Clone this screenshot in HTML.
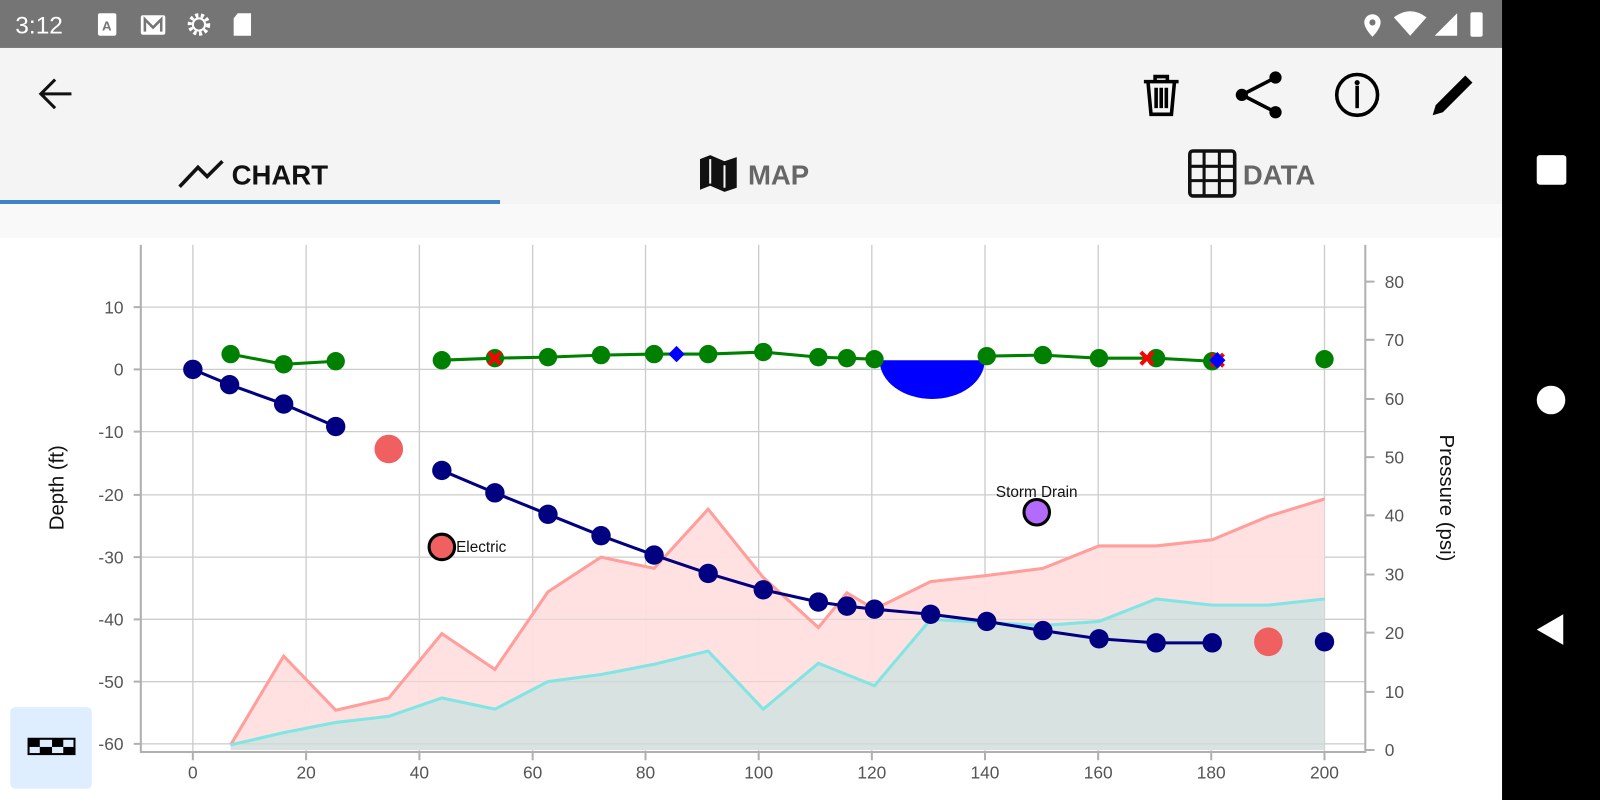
<!DOCTYPE html>
<html><head><meta charset="utf-8"><style>
html,body{margin:0;padding:0;background:#fff;overflow:hidden}
svg{display:block}
text{font-family:"Liberation Sans",sans-serif}
</style></head><body>
<svg width="1600" height="800" viewBox="0 0 1568 784" preserveAspectRatio="none" xmlns="http://www.w3.org/2000/svg">
<rect x="0" y="0" width="1568" height="784" fill="#fff"/>
<rect x="0" y="0" width="1568" height="47" fill="#757575"/>
<text x="15" y="33" font-size="24" fill="#fff">3:12</text>
<rect x="96" y="13" width="18" height="22" rx="2" fill="#fff"/><text x="100" y="30" font-size="13" font-weight="bold" fill="#757575">A</text>
<rect x="138" y="15" width="24" height="19" rx="2" fill="#fff"/><path d="M142 31 V19 L150 27 L158 19 V31" stroke="#757575" stroke-width="2.5" fill="none"/>
<circle cx="195" cy="24" r="9" fill="none" stroke="#fff" stroke-width="4" stroke-dasharray="3 2.5"/><circle cx="195" cy="24" r="6" fill="none" stroke="#fff" stroke-width="2"/>
<path d="M233 13 H246 V35 H229 V18 Z" fill="#fff"/>
<path d="M1345 14 a8 8 0 0 1 8 8 c0 6 -8 14 -8 14 c0 0 -8 -8 -8 -14 a8 8 0 0 1 8 -8z" fill="#fff"/><circle cx="1345" cy="22" r="3" fill="#757575"/>
<path d="M1366 17 Q1382 5 1398 17 L1382 35 Z" fill="#fff"/>
<path d="M1406 35 L1428 13 V35 Z" fill="#fff"/>
<rect x="1441" y="12" width="12" height="24" rx="2" fill="#fff"/>
<rect x="0" y="47" width="1472" height="153" fill="#f4f4f4"/>
<path d="M70 92 H40 M54 78 L40 92 L54 106" stroke="#111" stroke-width="3" fill="none"/>
<g fill="none" stroke="#000" stroke-width="3.5">
<path d="M1121 80 H1155 M1132 80 V75 H1144 V80 M1125 80 L1128 112 H1148 L1151 80 M1133 86 V106 M1138 86 V106 M1143 86 V106"/>
<path d="M1250 76 L1217 93 L1250 110"/>
<circle cx="1330" cy="93" r="20"/>
<path d="M1330 84 V106"/>
<path d="M1408 110 L1438 79"/>
</g>
<circle cx="1250" cy="76" r="6"/><circle cx="1217" cy="93" r="6"/><circle cx="1250" cy="110" r="6"/>
<circle cx="1330" cy="81" r="2.5"/>
<path d="M1404 113 L1407 103 L1436 74 L1443 81 L1414 110 Z" fill="#000"/>
<path d="M176 183 L194 164 L203 173 L218 158" stroke="#111" stroke-width="3.5" fill="none"/>
<text x="227" y="181" font-size="27" font-weight="bold" fill="#111">CHART</text>
<rect x="0" y="196" width="490" height="4" fill="#3d85c6"/>
<path d="M686 156 L696 152 L710 158 L722 154 V184 L710 188 L696 182 L686 186 Z" fill="#111"/><path d="M696 156 V180 M710 162 V184" stroke="#f4f4f4" stroke-width="2"/>
<text x="733" y="181" font-size="27" font-weight="bold" fill="#666">MAP</text>
<rect x="1166" y="148" width="44" height="44" rx="3" fill="none" stroke="#111" stroke-width="3.5"/>
<path d="M1180 148 V192 M1195 148 V192 M1166 163 H1210 M1166 177 H1210" stroke="#111" stroke-width="3"/>
<text x="1218" y="181" font-size="27" font-weight="bold" fill="#666">DATA</text>
<rect x="0" y="200" width="1472" height="33" fill="#f9f9f9"/>
<rect x="1472" y="0" width="96" height="784" fill="#000"/>
<rect x="1506" y="152" width="29" height="29" rx="3" fill="#fff"/>
<circle cx="1520" cy="392" r="14" fill="#fff"/>
<path d="M1532 602 V632 L1506 617 Z" fill="#fff"/>
<g stroke="#cccccc" stroke-width="1.3">
<path d="M189 240V737M300 240V737M411 240V737M522 240V737M632.6 240V737M743.5 240V737M854.4 240V737M965.3 240V737M1076.2 240V737M1187 240V737M1298 240V737"/>
<path d="M138 301H1338M138 362H1338M138 423H1338M138 485H1338M138 546H1338M138 607H1338M138 668H1338M138 729H1338"/>
</g>
<path d="M226 730 L278 643 L329 696 L381 684 L433 621 L485 656 L537 580 L589 546 L641 557 L694 499 L748 566 L802 615 L830 581 L857 597 L912 570 L967 564 L1022 557 L1077 535 L1133 535 L1188 529 L1243 506 L1298 489 L1298 735 L226 735 Z" fill="#ffdfdf" opacity="0.95"/>
<path d="M226 730 L278 718 L329 708 L381 702 L433 684 L485 695 L537 668 L589 661 L641 651 L694 638 L748 695 L802 650 L857 672 L912 607 L967 610 L1022 613 L1077 609 L1133 587 L1188 593 L1243 593 L1298 587 L1298 735 L226 735 Z" fill="#d8e2e1"/>
<g stroke="#cfcfcf" stroke-width="1.3" opacity="0.6"><path d="M138 668H1338M138 729H1338M138 607H1338"/></g>
<path d="M226 730 L278 643 L329 696 L381 684 L433 621 L485 656 L537 580 L589 546 L641 557 L694 499 L748 566 L802 615 L830 581 L857 597 L912 570 L967 564 L1022 557 L1077 535 L1133 535 L1188 529 L1243 506 L1298 489" fill="none" stroke="#ff9e9b" stroke-width="3"/>
<path d="M226 730 L278 718 L329 708 L381 702 L433 684 L485 695 L537 668 L589 661 L641 651 L694 638 L748 695 L802 650 L857 672 L912 607 L967 610 L1022 613 L1077 609 L1133 587 L1188 593 L1243 593 L1298 587" fill="none" stroke="#80e5e3" stroke-width="3"/>
<g stroke="#b0b0b0" stroke-width="2" fill="none">
<path d="M138 240 V737 H1338 V240"/>
<path d="M131 301H138M131 362H138M131 423H138M131 485H138M131 546H138M131 607H138M131 668H138M131 729H138"/>
<path d="M189 737v8M300 737v8M411 737v8M522 737v8M632.6 737v8M743.5 737v8M854.4 737v8M965.3 737v8M1076.2 737v8M1187 737v8M1298 737v8"/>
<path d="M1338 735h9M1338 678h9M1338 620h9M1338 563h9M1338 505h9M1338 448h9M1338 391h9M1338 333h9M1338 276h9"/>
</g>
<g font-size="17" fill="#555" text-anchor="end">
<text x="121" y="307">10</text><text x="121" y="368">0</text><text x="121" y="429">-10</text><text x="121" y="491">-20</text><text x="121" y="552">-30</text><text x="121" y="613">-40</text><text x="121" y="674">-50</text><text x="121" y="735">-60</text>
</g>
<g font-size="17" fill="#555" text-anchor="middle">
<text x="189" y="763">0</text><text x="300" y="763">20</text><text x="411" y="763">40</text><text x="522" y="763">60</text><text x="632.6" y="763">80</text><text x="743.5" y="763">100</text><text x="854.4" y="763">120</text><text x="965.3" y="763">140</text><text x="1076.2" y="763">160</text><text x="1187" y="763">180</text><text x="1298" y="763">200</text>
</g>
<g font-size="17" fill="#555">
<text x="1357" y="741">0</text><text x="1357" y="684">10</text><text x="1357" y="626">20</text><text x="1357" y="569">30</text><text x="1357" y="511">40</text><text x="1357" y="454">50</text><text x="1357" y="397">60</text><text x="1357" y="339">70</text><text x="1357" y="282">80</text>
</g>
<text transform="translate(62,478) rotate(-90)" font-size="20" fill="#111" text-anchor="middle">Depth (ft)</text>
<text transform="translate(1411,488) rotate(90)" font-size="20" fill="#111" text-anchor="middle">Pressure (psi)</text>
<path d="M862 353 H965 A51.5 38 0 0 1 862 353 Z" fill="#0000ff"/>
<g stroke="#008000" stroke-width="3" fill="none">
<path d="M226 347 L278 357 L329 354"/>
<path d="M433 353 L485 351 L537 350 L589 348 L641 347 L694 347 L748 345 L802 350 L830 351 L857 352"/>
<path d="M967 349 L1022 348 L1077 351 L1133 351 L1188 354"/>
</g>
<g fill="#008000">
<circle cx="226" cy="347" r="9"/><circle cx="278" cy="357" r="9"/><circle cx="329" cy="354" r="9"/>
<circle cx="433" cy="353" r="9"/><circle cx="485" cy="351" r="9"/><circle cx="537" cy="350" r="9"/><circle cx="589" cy="348" r="9"/><circle cx="641" cy="347" r="9"/><circle cx="694" cy="347" r="9"/><circle cx="748" cy="345" r="9"/><circle cx="802" cy="350" r="9"/><circle cx="830" cy="351" r="9"/><circle cx="857" cy="352" r="9"/>
<circle cx="967" cy="349" r="9"/><circle cx="1022" cy="348" r="9"/><circle cx="1077" cy="351" r="9"/><circle cx="1133" cy="351" r="9"/><circle cx="1188" cy="354" r="9"/><circle cx="1298" cy="352" r="9"/>
</g>
<g stroke="#ff0000" stroke-width="4">
<path d="M479 345 L491 357 M491 345 L479 357"/>
<path d="M1118 345 L1130 357 M1130 345 L1118 357"/>
<path d="M1187 347 L1199 359 M1199 347 L1187 359"/>
</g>
<g fill="#0000ff">
<path d="M663 339 L671 347 L663 355 L655 347 Z"/>
<path d="M1193 345 L1201 353 L1193 361 L1185 353 Z"/>
</g>
<g stroke="#000080" stroke-width="3" fill="none">
<path d="M189 362 L225 377 L278 396 L329 418"/>
<path d="M433 461 L485 483 L537 504 L589 525 L641 544 L694 562 L748 578 L802 590 L830 594 L857 597 L912 602 L967 609 L1022 618 L1077 626 L1133 630 L1188 630"/>
</g>
<g fill="#000080">
<circle cx="189" cy="362" r="9.5"/><circle cx="225" cy="377" r="9.5"/><circle cx="278" cy="396" r="9.5"/><circle cx="329" cy="418" r="9.5"/>
<circle cx="433" cy="461" r="9.5"/><circle cx="485" cy="483" r="9.5"/><circle cx="537" cy="504" r="9.5"/><circle cx="589" cy="525" r="9.5"/><circle cx="641" cy="544" r="9.5"/><circle cx="694" cy="562" r="9.5"/><circle cx="748" cy="578" r="9.5"/><circle cx="802" cy="590" r="9.5"/><circle cx="830" cy="594" r="9.5"/><circle cx="857" cy="597" r="9.5"/><circle cx="912" cy="602" r="9.5"/><circle cx="967" cy="609" r="9.5"/><circle cx="1022" cy="618" r="9.5"/><circle cx="1077" cy="626" r="9.5"/><circle cx="1133" cy="630" r="9.5"/><circle cx="1188" cy="630" r="9.5"/><circle cx="1298" cy="629" r="9.5"/>
</g>
<circle cx="381" cy="440" r="14" fill="#f06060"/>
<circle cx="1243" cy="629" r="14" fill="#f06060"/>
<circle cx="433" cy="536" r="12.5" fill="#f06060" stroke="#000" stroke-width="3"/>
<text x="447" y="541" font-size="15" fill="#111">Electric</text>
<circle cx="1016" cy="502" r="12.5" fill="#b36bff" stroke="#000" stroke-width="3"/>
<text x="1016" y="487" font-size="15" fill="#111" text-anchor="middle">Storm Drain</text>
<rect x="10" y="693" width="80" height="80" rx="5" fill="#deeeff"/>
<rect x="27" y="723" width="47" height="17" fill="#000"/>
<g fill="#deeeff"><rect x="29" y="732" width="10" height="6"/><rect x="39" y="725" width="12" height="7"/><rect x="51" y="732" width="11" height="6"/><rect x="62" y="725" width="10" height="7"/></g>
</svg>
</body></html>
